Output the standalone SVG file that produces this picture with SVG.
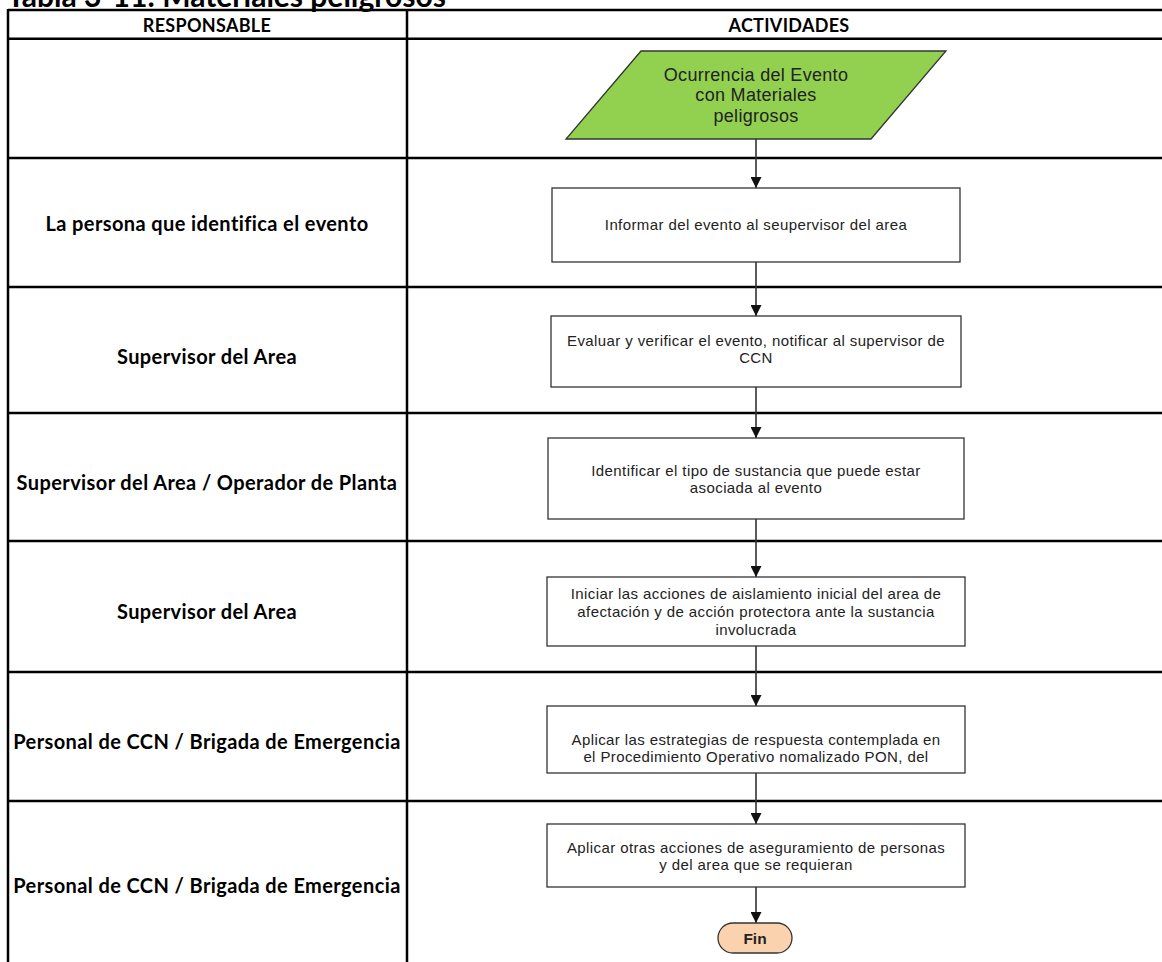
<svg xmlns="http://www.w3.org/2000/svg" width="1162" height="962" viewBox="0 0 1162 962">
<style>
.grid{stroke:#000;stroke-width:2.5;fill:none}
.lbl{font-family:Lato,"Liberation Sans",sans-serif;font-weight:bold;font-size:20px;letter-spacing:0.4px;fill:#000;text-anchor:middle}
.hdr{font-family:Lato,"Liberation Sans",sans-serif;font-weight:bold;font-size:18px;letter-spacing:0.3px;fill:#000;text-anchor:middle}
.box{fill:#fff;stroke:#333;stroke-width:1.3}
.txt{font-family:"Liberation Sans",Arial,sans-serif;font-size:15px;letter-spacing:0.4px;fill:#222;text-anchor:middle}
.big{font-size:18px;letter-spacing:0.3px}
.conn{stroke:#333;stroke-width:1.6;fill:none}
</style>
<defs>
<marker id="arr" viewBox="0 0 10 10" refX="10" refY="5" markerWidth="12" markerHeight="11" orient="auto" markerUnits="userSpaceOnUse">
<path d="M0,0 L10,5 L0,10 z" fill="#111"/>
</marker>
</defs>
<rect width="1162" height="962" fill="#fff"/>
<text x="7" y="7" font-family="Lato,'Liberation Sans',sans-serif" font-weight="bold" font-size="30" fill="#000">Tabla 3-11: Materiales peligrosos</text>
<g id="table">
<line class="grid" x1="8" y1="10" x2="1162" y2="10"/>
<line class="grid" x1="8" y1="38.7" x2="1162" y2="38.7"/>
<line class="grid" x1="8" y1="158" x2="1162" y2="158"/>
<line class="grid" x1="8" y1="287" x2="1162" y2="287"/>
<line class="grid" x1="8" y1="413" x2="1162" y2="413"/>
<line class="grid" x1="8" y1="541" x2="1162" y2="541"/>
<line class="grid" x1="8" y1="672" x2="1162" y2="672"/>
<line class="grid" x1="8" y1="801" x2="1162" y2="801"/>
<line class="grid" x1="8" y1="9" x2="8" y2="962"/>
<line class="grid" x1="407" y1="9" x2="407" y2="962"/>
<text class="hdr" x="207" y="32">RESPONSABLE</text>
<text class="hdr" x="789" y="32">ACTIVIDADES</text>
</g>
<g id="lanes">
<text class="lbl" x="207" y="231">La persona que identifica el evento</text>
<text class="lbl" x="207" y="364">Supervisor del Area</text>
<text class="lbl" x="207" y="490">Supervisor del Area / Operador de Planta</text>
<text class="lbl" x="207" y="619">Supervisor del Area</text>
<text class="lbl" x="207" y="749">Personal de CCN / Brigada de Emergencia</text>
<text class="lbl" x="207" y="893">Personal de CCN / Brigada de Emergencia</text>
</g>
<g id="connectors">
<line class="conn" x1="756" y1="139" x2="756" y2="188" marker-end="url(#arr)"/>
<line class="conn" x1="756" y1="262" x2="756" y2="316" marker-end="url(#arr)"/>
<line class="conn" x1="756" y1="387" x2="756" y2="438" marker-end="url(#arr)"/>
<line class="conn" x1="756" y1="519" x2="756" y2="577" marker-end="url(#arr)"/>
<line class="conn" x1="756" y1="646" x2="756" y2="706" marker-end="url(#arr)"/>
<line class="conn" x1="756" y1="773" x2="756" y2="824" marker-end="url(#arr)"/>
<line class="conn" x1="756" y1="887" x2="756" y2="923" marker-end="url(#arr)"/>
</g>
<g id="start">
<polygon points="641,51 946,51 871,139 566,139" fill="#92D050" stroke="#333" stroke-width="1.3"/>
<text class="txt big" x="756" y="81">Ocurrencia del Evento</text>
<text class="txt big" x="756" y="101">con Materiales</text>
<text class="txt big" x="756" y="122">peligrosos</text>
</g>
<g id="n1">
<rect class="box" x="552" y="188" width="408" height="74"/>
<text class="txt" x="756" y="230">Informar del evento al seupervisor del area</text>
</g>
<g id="n2">
<rect class="box" x="551" y="316" width="410" height="71"/>
<text class="txt" x="756" y="346">Evaluar y verificar el evento, notificar al supervisor de</text>
<text class="txt" x="756" y="363">CCN</text>
</g>
<g id="n3">
<rect class="box" x="548" y="438" width="416" height="81"/>
<text class="txt" x="756" y="476">Identificar el tipo de sustancia que puede estar</text>
<text class="txt" x="756" y="493">asociada al evento</text>
</g>
<g id="n4">
<rect class="box" x="547" y="577" width="418" height="69"/>
<text class="txt" x="756" y="599">Iniciar las acciones de aislamiento inicial del area de</text>
<text class="txt" x="756" y="617">afectación y de acción protectora ante la sustancia</text>
<text class="txt" x="756" y="635">involucrada</text>
</g>
<g id="n5">
<rect class="box" x="547" y="706" width="418" height="67"/>
<text class="txt" x="756" y="745">Aplicar las estrategias de respuesta contemplada en</text>
<text class="txt" x="756" y="762">el Procedimiento Operativo nomalizado PON,  del</text>
</g>
<g id="n6">
<rect class="box" x="547" y="824" width="418" height="63"/>
<text class="txt" x="756" y="853">Aplicar otras acciones de aseguramiento de personas</text>
<text class="txt" x="756" y="870">y del area que se requieran</text>
</g>
<g id="fin">
<rect x="718" y="923" width="74" height="30" rx="15" fill="#FAD3AE" stroke="#333" stroke-width="1.3"/>
<text x="755" y="944" font-family="'Liberation Sans',Arial,sans-serif" font-weight="bold" font-size="15.5" fill="#222" text-anchor="middle">Fin</text>
</g>
</svg>
